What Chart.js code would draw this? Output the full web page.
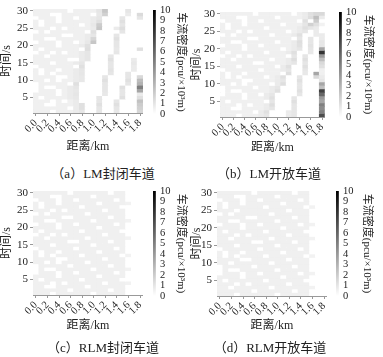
<!DOCTYPE html>
<html><head><meta charset="utf-8">
<script src="https://cdn.jsdelivr.net/npm/chart.js@4"></script>
<style>
html,body{margin:0;padding:0;background:#fff;}
#root{position:relative;width:383px;height:357px;overflow:hidden;background:#fff;}
canvas{position:absolute;}
.cap{position:absolute;font-family:"Liberation Serif","Noto Sans CJK SC",serif;font-size:13px;color:#222;white-space:nowrap;transform:translate(-50%,-50%);}
</style></head><body><div id="root"></div>
<script>
// categories: distance (km), one column each
const distances = ['0.0','0.1','0.2','0.3','0.4','0.5','0.6','0.7','0.8','0.9','1.0','1.1','1.2','1.3','1.4','1.5','1.6','1.7','1.8'];
// time (s), one row each, listed top (30) to bottom (1)
const times = [30,29,28,27,26,25,24,23,22,21,20,19,18,17,16,15,14,13,12,11,10,9,8,7,6,5,4,3,2,1];
const timeTicks = [5,10,15,20,25,30];
const densityTicks = [0,1,2,3,4,5,6,7,8,9,10];
const densityMin = 0, densityMax = 10;

// density values (pcu/10^3 m), rows follow `times`, columns follow `distances`
const lmClosed = [
[.6,.6,.6,.6,.6,.6,0,.6,.6,.6,.6,1.0,2.2,0,0,0,1.0,0,0],
[.6,.6,.6,0,0,.6,.6,.6,.6,.6,0,.9,1.8,0,0,0,.8,0,1.4],
[0,.6,.6,.6,0,.6,.6,0,.6,.6,.8,1.0,0,0,0,1.0,0,0,1.0],
[.6,0,.6,.6,0,.6,.6,.6,.6,.6,.8,1.2,0,0,0,1.2,0,0,0],
[.6,0,.6,.6,.6,.6,.6,.6,0,.6,.9,2.0,0,0,0,1.0,0,0,0],
[.6,.6,.6,0,.6,0,.6,.6,.6,.6,.8,2.2,0,0,.8,1.3,0,0,0],
[0,.6,0,.6,.6,.6,.6,.6,.6,0,1.2,0,0,0,0,1.0,0,0,0],
[.6,.6,.6,.6,.6,0,0,.6,.6,.8,1.0,0,0,0,1.0,0,0,0,0],
[.6,.6,0,0,.6,.6,.6,.6,.6,.8,1.6,0,0,0,1.2,0,0,0,0],
[0,.6,.6,.6,0,.6,.6,0,.6,.9,2.2,0,0,0,1.0,0,0,0,0],
[.6,.6,.6,.6,0,.6,.6,.6,.8,1.2,0,0,0,0,1.0,0,0,0,0],
[.6,0,.6,.6,.6,.6,.6,.6,0,1.3,0,0,0,0,.9,0,0,0,1.2],
[0,.6,.6,0,.6,0,.6,.6,.8,1.0,0,0,0,0,1.0,0,0,0,0],
[.6,.6,0,.6,.6,.6,.6,.6,.8,1.0,0,0,0,1.0,0,0,0,0,0],
[.6,.6,.6,.6,.6,.6,0,0,.8,1.0,0,0,0,1.2,0,0,0,.8,0],
[.6,.6,.6,0,.6,.6,.6,.8,1.0,0,0,0,0,1.0,0,0,0,.9,0],
[0,.6,.6,.6,.6,.6,.6,0,1.2,0,0,0,0,1.0,0,0,0,.8,0],
[.6,0,.6,.6,0,.6,.6,.8,1.0,0,0,0,0,1.1,0,0,0,.8,0],
[.6,0,.6,0,.6,.6,.6,.8,1.0,0,0,0,0,1.0,0,0,1.0,0,0],
[.6,.6,.6,.6,0,0,.6,.8,.9,0,0,0,1.0,0,0,0,1.0,0,1.5],
[.6,.6,0,.6,0,.6,.6,.8,.9,0,0,0,1.2,0,0,0,1.2,0,2.6],
[0,.6,.6,.6,.6,.6,0,1.2,0,0,0,0,1.0,0,0,0,1.0,0,3.0],
[0,.6,0,0,.6,.6,.8,1.0,0,0,0,0,1.0,0,0,1.2,0,0,5.0],
[0,.6,.6,.6,0,.6,.8,.9,0,0,0,0,1.0,0,0,1.0,0,0,3.5],
[.6,.6,.6,.6,0,.6,.8,1.0,0,0,0,0,.9,0,0,1.0,0,0,.8],
[.6,0,.6,.6,.6,.6,.8,.9,0,0,0,1.0,0,0,0,1.2,0,0,1.2],
[.6,.6,.6,0,.6,0,.6,.8,0,0,0,1.0,0,0,1.0,0,0,0,2.4],
[.6,.6,0,0,.6,.6,.6,.8,1.2,0,0,1.2,0,0,1.2,0,0,0,2.0],
[.6,.6,.6,.6,.6,.6,0,.8,1.2,0,0,1.0,0,0,1.0,0,0,0,1.8],
[.6,.6,.6,0,.6,.6,.6,.8,1.0,0,0,1.0,0,0,.9,0,0,0,1.6]
];
const lmOpen = [
[.6,.6,.6,.6,.6,.6,0,.6,.6,.6,.6,.6,.6,0,.6,.8,1.2,1.5,1.5],
[.6,.6,.6,0,0,.6,.6,.6,.6,.6,0,.6,.6,.6,.6,.8,1.3,2.5,.8],
[0,.6,.6,.6,0,.6,.6,0,.6,.6,.6,.6,.6,.6,0,1.2,0,2.0,0],
[.6,0,.6,.6,0,.6,.6,.6,.6,.6,.6,0,.6,.6,.6,1.0,1.8,1.2,.5],
[.6,0,.6,.6,.6,.6,.6,.6,0,.6,.6,.6,.6,.6,.8,1.2,1.0,.8,0],
[.6,.6,.6,0,.6,0,.6,.6,.6,.6,.6,.6,0,.6,.8,1.0,0,.8,0],
[0,.6,0,.6,.6,.6,.6,.6,.6,0,.6,.6,.6,.8,1.2,0,0,.8,.8],
[.6,.6,.6,.6,.6,0,0,.6,.6,.6,.6,.6,.6,0,1.0,0,1.0,0,.8],
[.6,.6,0,0,.6,.6,.6,.6,.6,.6,0,.6,.6,.8,1.3,0,1.0,0,1.0],
[0,.6,.6,.6,0,.6,.6,0,.6,.6,.6,.6,.6,.8,1.2,0,1.1,0,1.0],
[.6,.6,.6,.6,0,.6,.6,.6,.6,.6,.6,0,.6,.8,1.0,0,1.0,0,3.5],
[.6,0,.6,.6,.6,.6,.6,.6,0,.6,.6,.6,.8,1.2,0,0,.9,0,8.0],
[0,.6,.6,0,.6,0,.6,.6,.6,.6,.6,.6,0,1.0,0,1.0,0,0,4.0],
[.6,.6,0,.6,.6,.6,.6,.6,.6,0,.6,.6,.8,1.3,0,1.2,0,0,2.5],
[.6,.6,.6,.6,.6,.6,0,0,.6,.6,.6,.6,.8,1.0,0,1.0,0,0,1.5],
[.6,.6,.6,0,.6,.6,.6,.6,.6,.6,0,.8,1.2,0,0,1.2,0,0,1.2],
[0,.6,.6,.6,.6,.6,.6,0,.6,.6,.6,.8,1.0,0,0,1.0,0,0,.6],
[.6,0,.6,.6,0,.6,.6,.6,.6,.6,.6,0,1.3,0,0,.9,0,3.5,.6],
[.6,0,.6,0,.6,.6,.6,.6,0,.6,.8,1.2,0,0,1.0,0,0,1.5,.8],
[.6,.6,.6,.6,0,0,.6,.6,.6,.6,.8,1.0,0,0,1.2,0,0,0,1.0],
[.6,.6,0,.6,0,.6,.6,.6,.6,0,.8,1.3,0,0,1.0,0,0,0,3.5],
[0,.6,.6,.6,.6,.6,0,.6,.6,.8,1.0,0,0,0,1.0,0,0,0,2.5],
[0,.6,0,0,.6,.6,.6,.6,.6,.8,1.2,0,0,0,1.2,0,0,0,7.5],
[0,.6,.6,.6,0,.6,.6,0,.8,1.0,0,0,0,0,1.0,0,0,0,6.0],
[.6,.6,.6,.6,0,.6,.6,.6,.8,1.2,0,0,0,1.0,0,0,0,0,4.0],
[.6,0,.6,.6,.6,.6,.6,.6,0,1.0,0,0,0,1.2,0,0,0,0,3.5],
[.6,.6,.6,0,.6,0,.6,.6,.8,1.3,0,0,0,1.0,0,0,0,0,5.0],
[.6,.6,0,0,.6,.6,.6,.6,.8,1.0,0,0,0,1.0,0,0,0,0,4.5],
[.6,.6,.6,.6,.6,.6,0,.8,1.2,0,0,0,.8,1.0,0,0,0,0,5.0],
[.6,.6,.6,0,.6,.6,.6,.8,1.0,0,0,0,.8,1.0,0,0,0,0,7.0]
];
const rlmClosed = [
[.6,.6,.6,.6,.6,.6,0,.6,.6,.6,.6,.6,.6,0,.6,.6,0,0,0],
[.6,.6,.6,0,0,.6,.6,.6,.6,.6,0,.6,.6,.6,.6,.6,0,0,0],
[0,.6,.6,.6,0,.6,.6,0,.6,.6,.6,.6,.6,.6,0,.6,0,0,0],
[.6,0,.6,.6,0,.6,.6,.6,.6,.6,.6,0,.6,.6,.6,.6,.5,0,0],
[.6,0,.6,.6,.6,.6,.6,.6,0,.6,.6,.6,.6,.6,.6,0,0,0,0],
[.6,.6,.6,0,.6,0,.6,.6,.6,.6,.6,.6,0,.6,.6,.6,0,0,0],
[0,.6,0,.6,.6,.6,.6,.6,.6,0,.6,.6,.6,.6,.6,.6,0,0,0],
[.6,.6,.6,.6,.6,0,0,.6,.6,.6,.6,.6,.6,0,.6,.6,0,0,0],
[.6,.6,0,0,.6,.6,.6,.6,.6,.6,0,.6,.6,.6,.6,.6,.5,0,0],
[0,.6,.6,.6,0,.6,.6,0,.6,.6,.6,.6,.6,.6,0,.6,0,0,0],
[.6,.6,.6,.6,0,.6,.6,.6,.6,.6,.6,0,.6,.6,.6,.6,0,0,0],
[.6,0,.6,.6,.6,.6,.6,.6,0,.6,.6,.6,.6,.6,.6,0,0,0,0],
[0,.6,.6,0,.6,0,.6,.6,.6,.6,.6,.6,0,.6,.6,.6,0,0,0],
[.6,.6,0,.6,.6,.6,.6,.6,.6,0,.6,.6,.6,.6,.6,.6,.5,0,0],
[.6,.6,.6,.6,.6,.6,0,0,.6,.6,.6,.6,.6,0,.6,.6,0,0,0],
[.6,.6,.6,0,.6,.6,.6,.6,.6,.6,0,.6,.6,.6,.6,.6,0,0,0],
[0,.6,.6,.6,.6,.6,.6,0,.6,.6,.6,.6,.6,.6,0,.6,0,0,0],
[.6,0,.6,.6,0,.6,.6,.6,.6,.6,.6,0,.6,.6,.6,.6,0,0,0],
[.6,0,.6,0,.6,.6,.6,.6,0,.6,.6,.6,.6,.6,.6,0,.5,0,0],
[.6,.6,.6,.6,0,0,.6,.6,.6,.6,.6,.6,0,.6,.6,.6,0,0,0],
[.6,.6,0,.6,0,.6,.6,.6,.6,0,.6,.6,.6,.6,.6,.6,0,0,0],
[0,.6,.6,.6,.6,.6,0,.6,.6,.6,.6,.6,.6,0,.6,.6,0,0,0],
[0,.6,0,0,.6,.6,.6,.6,.6,.6,0,.6,.6,.6,.6,.6,.5,0,0],
[0,.6,.6,.6,0,.6,.6,0,.6,.6,.6,.6,.6,.6,0,.6,0,0,0],
[.6,.6,.6,.6,0,.6,.6,.6,.6,.6,.6,0,.6,.6,.6,.6,0,0,0],
[.6,0,.6,.6,.6,.6,.6,.6,0,.6,.6,.6,.6,.6,.6,0,0,0,0],
[.6,.6,.6,0,.6,0,.6,.6,.6,.6,.6,.6,0,.6,.6,.6,.5,0,0],
[.6,.6,0,0,.6,.6,.6,.6,.6,0,.6,.6,.6,.6,.6,.6,0,0,0],
[.6,.6,.6,.6,.6,.6,0,.6,.6,.6,.6,.6,.6,0,.6,.6,0,0,0],
[.6,.6,.6,0,.6,.6,.6,.6,.6,.6,0,.6,.6,.6,.6,.6,0,0,0]
];
const rlmOpen = [
[.6,.6,.6,.6,.6,.6,0,.6,.6,.6,.6,.6,.6,0,.6,.6,0,0,0],
[.6,.6,.6,0,0,.6,.6,.6,.6,.6,0,.6,.6,.6,.6,.6,0,0,0],
[0,.6,.6,.6,0,.6,.6,0,.6,.6,.6,.6,.6,.6,0,.6,0,0,0],
[.6,0,.6,.6,0,.6,.6,.6,.6,.6,.6,0,.6,.6,.6,.6,0,0,0],
[.6,0,.6,.6,.6,.6,.6,.6,0,.6,.6,.6,.6,.6,.6,0,.5,0,0],
[.6,.6,.6,0,.6,.6,.6,.6,.6,.6,.6,.6,0,.6,.6,.6,0,0,0],
[0,.6,0,.6,.6,.6,.6,.6,.6,0,.6,.6,.6,.6,.6,.6,0,0,0],
[.6,.6,.6,.6,.6,0,0,.6,.6,.6,.6,.6,.6,0,.6,.6,0,0,0],
[.6,.6,0,0,.6,.6,.6,.6,.6,.6,0,.6,.6,.6,.6,.6,0,0,0],
[0,.6,.6,.6,0,.6,.6,0,.6,.6,.6,.6,.6,.6,0,.6,.5,0,0],
[.6,.6,.6,.6,0,.6,.6,.6,.6,.6,.6,0,.6,.6,.6,.6,0,0,0],
[.6,0,.6,.6,.6,.6,.6,.6,0,.6,.6,.6,.6,.6,.6,0,0,0,0],
[.6,.6,.6,0,.6,0,.6,.6,.6,.6,.6,.6,0,.6,.6,.6,0,0,0],
[.6,.6,0,.6,.6,.6,.6,.6,.6,0,.6,.6,.6,.6,.6,.6,.5,0,0],
[.6,.6,.6,.6,.6,.6,0,0,.6,.6,.6,.6,.6,0,.6,.6,0,0,0],
[.6,.6,.6,0,.6,.6,.6,.6,.6,.6,0,.6,.6,.6,.6,.6,0,0,0],
[0,.6,.6,.6,.6,.6,.6,0,.6,.6,.6,.6,.6,.6,0,.6,0,0,0],
[.6,0,.6,.6,0,.6,.6,.6,.6,.6,.6,0,.6,.6,.6,.6,0,0,0],
[.6,0,.6,0,.6,.6,.6,.6,0,.6,.6,.6,.6,.6,.6,0,.5,0,0],
[.6,.6,.6,.6,0,0,.6,.6,.6,.6,.6,.6,0,.6,.6,.6,0,0,0],
[.6,.6,0,.6,.6,.6,.6,.6,.6,0,.6,.6,.6,.6,.6,.6,0,0,0],
[0,.6,.6,.6,.6,.6,0,.6,.6,.6,.6,.6,.6,0,.6,.6,0,0,0],
[0,.6,0,0,.6,.6,.6,.6,.6,.6,0,.6,.6,.6,.6,.6,0,0,0],
[0,.6,.6,.6,0,.6,.6,0,.6,.6,.6,.6,.6,.6,0,.6,.5,0,0],
[.6,.6,.6,.6,0,.6,.6,.6,.6,.6,.6,0,.6,.6,.6,.6,0,0,0],
[.6,0,.6,.6,.6,.6,.6,.6,0,.6,.6,.6,.6,.6,.6,0,0,0,0],
[.6,.6,.6,0,.6,0,.6,.6,.6,.6,.6,.6,0,.6,.6,.6,0,0,0],
[.6,.6,0,.6,.6,.6,.6,.6,.6,0,.6,.6,.6,.6,.6,.6,.5,0,0],
[.6,.6,.6,.6,.6,.6,0,.6,.6,.6,.6,.6,.6,0,.6,.6,0,0,0],
[.6,.6,.6,0,.6,.6,.6,.6,.6,.6,0,.6,.6,.6,.6,.6,0,0,0]
];

const xTitle = '距离/km', yTitle = '时间/s', cbTitle = '车流密度(pcu/×10³m)';
const captions = ['（a）LM封闭车道','（b）LM开放车道','（c）RLM封闭车道','（d）RLM开放车道'];

Chart.defaults.font.family = '"Liberation Serif","Noto Sans CJK SC",serif';
Chart.defaults.color = '#222';

const root = document.getElementById('root');
function makeCanvas(l, t, w, h) {
  const c = document.createElement('canvas');
  c.width = w; c.height = h;
  c.style.left = l + 'px'; c.style.top = t + 'px';
  c.style.width = w + 'px'; c.style.height = h + 'px';
  root.appendChild(c);
  return c;
}
function shade(v) {
  const g = Math.round(255 * (1 - Math.max(densityMin, Math.min(densityMax, v)) / densityMax));
  return 'rgb(' + g + ',' + g + ',' + g + ')';
}
const axisGrid = {display: true, drawOnChartArea: false, drawTicks: true, tickLength: 3, color: '#999', offset: false};

function heatmap(matrix, box) {
  const cv = makeCanvas(box.l, box.t, box.w, box.h);
  const datasets = times.map((t, k) => ({
    data: distances.map(() => [t - 0.5, t + 0.5]),
    backgroundColor: matrix[k].map(shade),
    borderWidth: 0,
    grouped: false,
    barPercentage: 1,
    categoryPercentage: 1
  }));
  new Chart(cv, {
    type: 'bar',
    data: {labels: distances, datasets},
    options: {
      responsive: false, animation: false, devicePixelRatio: 1,
      layout: {padding: {left: 0, top: box.pt, right: box.pr, bottom: 0}},
      plugins: {legend: {display: false}, tooltip: {enabled: false}},
      scales: {
        x: {
          type: 'category', offset: true,
          grid: axisGrid, border: {display: true, color: '#999'},
          ticks: {autoSkip: false, minRotation: 45, maxRotation: 45, padding: 1, font: {size: 10.5},
            callback: (v, i) => (i % 2 === 0 ? distances[i] : null)},
          title: {display: true, text: xTitle, font: {size: 12}, padding: {top: 0, bottom: 3}},
          afterFit: s => { s.height = box.xh; }
        },
        y: {
          type: 'linear', min: 0.5, max: 30.5,
          grid: axisGrid, border: {display: true, color: '#999'},
          afterBuildTicks: s => { s.ticks = timeTicks.map(v => ({value: v})); },
          ticks: {padding: 2, font: {size: 11}},
          title: {display: true, text: yTitle, font: {size: 12}, padding: {top: 0, bottom: 0}},
          afterFit: s => { s.width = box.yw; }
        }
      }
    }
  });
}

function colorbar(box) {
  const cv = makeCanvas(box.l, box.t, box.w, box.h);
  new Chart(cv, {
    type: 'bar',
    data: {labels: [''], datasets: [{
      data: [[densityMin, densityMax]],
      borderWidth: 0, barPercentage: 1, categoryPercentage: 1,
      backgroundColor: ctx => {
        const ch = ctx.chart, ys = ch.scales.y;
        if (!ys || !ch.chartArea) return '#888';
        const g = ch.ctx.createLinearGradient(0, ys.getPixelForValue(densityMin), 0, ys.getPixelForValue(densityMax));
        g.addColorStop(0, shade(densityMin));
        g.addColorStop(1, shade(densityMax));
        return g;
      }
    }]},
    options: {
      responsive: false, animation: false, devicePixelRatio: 1,
      layout: {padding: {left: box.pl, top: box.pt, right: 0, bottom: box.pb}},
      plugins: {legend: {display: false}, tooltip: {enabled: false}},
      scales: {
        x: {display: false, offset: false},
        y: {
          position: 'right', min: densityMin, max: densityMax,
          afterBuildTicks: s => { s.ticks = densityTicks.map(v => ({value: v})); },
          grid: {display: false, drawTicks: false}, border: {display: false},
          ticks: {autoSkip: false, padding: 2, font: {size: 10.5}},
          title: {display: true, text: cbTitle, font: {size: 11}, padding: {top: 3, bottom: 0}},
          afterFit: s => { s.width = box.yw; }
        }
      }
    }
  });
}

const mats = [lmClosed, lmOpen, rlmClosed, rlmOpen];
const heatBoxes = [
  {l: 0,   t: 0,   w: 150, h: 157, pt: 9,  pr: 3, yw: 33, xh: 44},
  {l: 190, t: 0,   w: 142, h: 158, pt: 12, pr: 3, yw: 30, xh: 41},
  {l: 0,   t: 180, w: 150, h: 156, pt: 11, pr: 3, yw: 33, xh: 41},
  {l: 190, t: 180, w: 144, h: 156, pt: 11, pr: 3, yw: 27, xh: 40}
];
const cbBoxes = [
  {l: 148, t: 0,   w: 42, h: 126, pl: 5, pt: 10, pb: 12, yw: 32},
  {l: 334, t: 0,   w: 43, h: 128, pl: 5, pt: 12, pb: 11, yw: 33},
  {l: 148, t: 180, w: 42, h: 128, pl: 5, pt: 11, pb: 12, yw: 32},
  {l: 331, t: 180, w: 45, h: 128, pl: 5, pt: 11, pb: 12, yw: 35}
];
const capPos = [[103, 172], [269, 172], [103, 346], [270, 346]];

mats.forEach((m, i) => {
  heatmap(m, heatBoxes[i]);
  colorbar(cbBoxes[i]);
  const d = document.createElement('div');
  d.className = 'cap';
  d.textContent = captions[i];
  d.style.left = capPos[i][0] + 'px';
  d.style.top = capPos[i][1] + 'px';
  root.appendChild(d);
});
</script>
</body></html>
